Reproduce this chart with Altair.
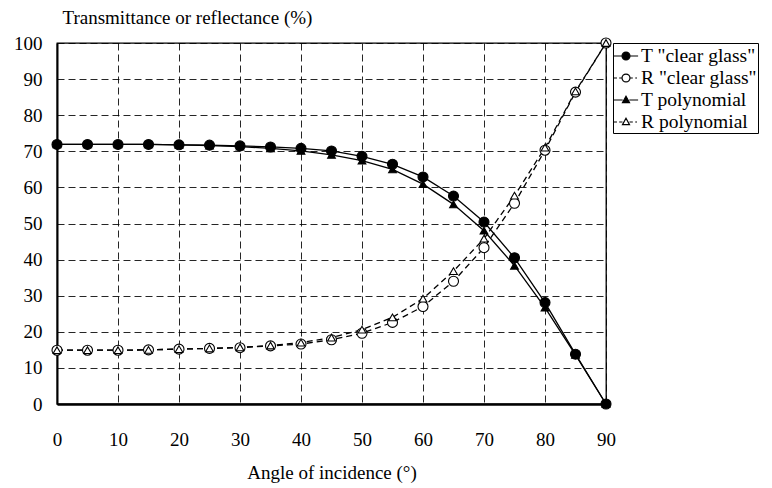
import altair as alt
import pandas as pd

angles = [0, 5, 10, 15, 20, 25, 30, 35, 40, 45, 50, 55, 60, 65, 70, 75, 80, 85, 90]
t_clear = [71.9, 71.9, 71.9, 71.9, 71.8, 71.7, 71.5, 71.2, 70.8, 70.1, 68.6, 66.4, 62.9, 57.6, 50.4, 40.5, 28.1, 13.8, 0.0]
r_clear = [14.9, 14.9, 14.9, 15.0, 15.2, 15.4, 15.6, 16.1, 16.6, 17.8, 19.6, 22.6, 27.0, 34.0, 43.3, 55.6, 70.3, 86.4, 100.0]
t_poly = [71.9, 71.9, 71.9, 71.9, 71.8, 71.6, 71.3, 70.8, 70.1, 69.0, 67.4, 65.0, 60.9, 55.3, 48.0, 38.3, 26.7, 13.6, 0.0]
r_poly = [14.9, 14.9, 14.9, 15.0, 15.2, 15.4, 15.7, 16.2, 17.0, 18.4, 20.6, 24.0, 29.2, 36.8, 45.8, 57.7, 71.0, 86.6, 100.0]

series_names = ['T "clear glass"', 'R "clear glass"', 'T polynomial', 'R polynomial']
x_ticks = [0, 10, 20, 30, 40, 50, 60, 70, 80, 90]
y_ticks = [0, 10, 20, 30, 40, 50, 60, 70, 80, 90, 100]

FONT = "Liberation Serif"

rows = []
for name, vals in zip(series_names, [t_clear, r_clear, t_poly, r_poly]):
    for a, v in zip(angles, vals):
        rows.append({"angle": a, "value": v, "series": name})
df = pd.DataFrame(rows)

x_enc = alt.X("angle:Q",
              scale=alt.Scale(domain=[0, 90], nice=False, zero=False),
              axis=alt.Axis(values=x_ticks, title="Angle of incidence (°)", grid=True,
                            gridDash=[7, 4], gridColor="#000", gridWidth=1, gridOpacity=0.85,
                            ticks=False, labelPadding=26, titlePadding=14,
                            labelOverlap=False, labelFlush=False,
                            domainColor="#000", domainWidth=2.5,
                            labelFont=FONT, labelFontSize=19, labelColor="#000",
                            titleFont=FONT, titleFontSize=19, titleFontWeight="normal", titleColor="#000"))
y_enc = alt.Y("value:Q",
              scale=alt.Scale(domain=[0, 100], nice=False, zero=False),
              axis=alt.Axis(values=y_ticks, title="Transmittance or reflectance (%)", grid=True,
                            gridDash=[7, 4], gridColor="#000", gridWidth=1, gridOpacity=0.85,
                            ticks=False, labelPadding=15,
                            labelOverlap=False, labelFlush=False, labelSeparation=0,
                            domainColor="#000", domainWidth=2,
                            labelFont=FONT, labelFontSize=19, labelColor="#000",
                            titleFont=FONT, titleFontSize=19, titleFontWeight="normal", titleColor="#000",
                            titleAngle=0, titleAlign="left", titleBaseline="alphabetic",
                            titleX=5, titleY=-20))

base = alt.Chart(df).encode(x=x_enc, y=y_enc)

def line_layer(name, dashed):
    kw = dict(color="#000", strokeWidth=1.3)
    if dashed:
        kw["strokeDash"] = [6, 4]
    return base.transform_filter(alt.datum.series == name).mark_line(**kw)

def point_layer(name, shape, filled, size):
    return base.transform_filter(alt.datum.series == name).mark_point(
        shape=shape, filled=True, fill="#000" if filled else "#fff",
        stroke="#000", strokeWidth=1.1, size=size, opacity=1)

# legend symbols: line + marker drawn as custom paths
circ = "M0.36,0A0.36,0.36 0 1,1 -0.36,0A0.36,0.36 0 1,1 0.36,0Z"
tri = "M0,-0.34L0.32,0.24L-0.32,0.24Z"
solid_c = "M-1.1,0L-0.36,0M0.36,0L1.1,0" + circ
dash_c = "M-1.1,0L-0.82,0M-0.62,0L-0.36,0M0.36,0L0.62,0M0.84,0L1.0,0" + circ
solid_t = "M-1.1,0L-0.3,0M0.3,0L1.1,0" + tri
dash_t = "M-1.1,0L-0.82,0M-0.62,0L-0.32,0M0.32,0L0.62,0M0.84,0L1.0,0" + tri

legend_layer = base.transform_filter("false").mark_point(
    filled=True, size=484, opacity=1
).encode(
    shape=alt.Shape("series:N", scale=alt.Scale(domain=series_names, range=[solid_c, dash_c, solid_t, dash_t]),
                    legend=alt.Legend(title=None)),
    fill=alt.Fill("series:N", scale=alt.Scale(domain=series_names, range=["#000", "#fff", "#000", "#fff"]),
                  legend=alt.Legend(title=None)),
    stroke=alt.Stroke("series:N", scale=alt.Scale(domain=series_names, range=["#000", "#000", "#000", "#000"]),
                      legend=alt.Legend(title=None)),
)

chart = alt.layer(
    line_layer(series_names[0], False),
    line_layer(series_names[1], True),
    line_layer(series_names[2], False),
    line_layer(series_names[3], True),
    point_layer(series_names[0], "circle", True, 100),
    point_layer(series_names[1], "circle", False, 100),
    point_layer(series_names[2], "triangle-up", True, 60),
    point_layer(series_names[3], "triangle-up", False, 60),
    legend_layer,
).properties(
    width=549, height=361,
    background="#fff",
    autosize=alt.AutoSizeParams(type="none"),
    padding={"left": 57, "top": 43, "right": 166, "bottom": 84},
).configure_view(
    stroke="#000", strokeWidth=1.3
).configure_legend(
    orient="right", offset=7, padding=1, strokeColor="#000", strokeWidth=1,
    labelFont=FONT, labelFontSize=19.5, labelColor="#000", labelOffset=3,
    rowPadding=0, symbolSize=484, symbolStrokeWidth=1.2, symbolStrokeColor="#000",
    labelLimit=300
)

chart.save("out.html", embed_options={"renderer": "svg", "actions": False})
